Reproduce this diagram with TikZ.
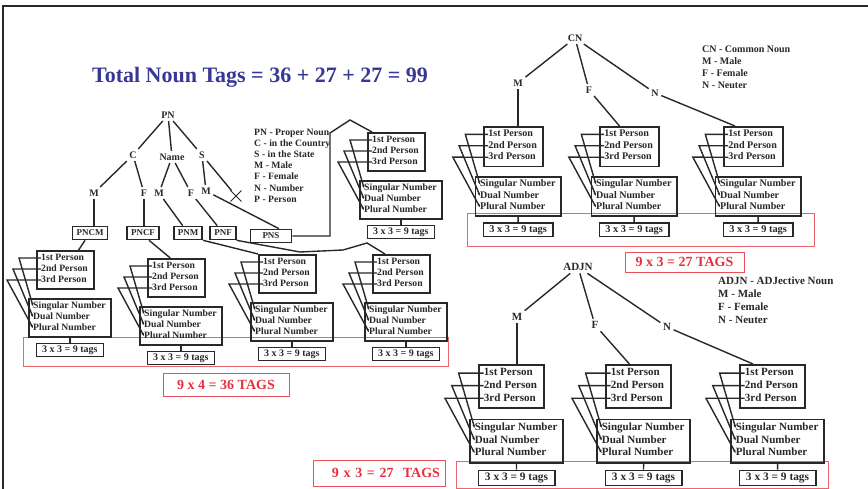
\documentclass[tikz,border=0pt]{standalone}
\usepackage{fontspec}
\setmainfont{Liberation Serif}
\usetikzlibrary{arrows.meta, positioning, shapes.misc}

\definecolor{titleblue}{RGB}{55,55,150}
\definecolor{tagred}{RGB}{232,48,60}
\definecolor{ink}{RGB}{40,40,40}

% one person/number block: name, top left of person box, scale
\newcommand{\taggroup}[4]{%
\begin{scope}[shift={(#2,#3)}, scale=#4, transform shape]
\node[box, minimum width=57pt] (#1p) at (0,0) {};
\node[row] (#1p1) at (5,8) {1st Person};
\node[row] (#1p2) at (5,19) {2nd Person};
\node[row] (#1p3) at (5,30) {3rd Person};
\node[box, minimum width=82pt] (#1n) at (-8,48) {};
\node[row] (#1n1) at (-3,56) {Singular Number};
\node[row] (#1n2) at (-3,67) {Dual Number};
\node[row] (#1n3) at (-3,78) {Plural Number};
\node[tagbox, below=5pt of #1n] (#1t) {3 x 3 = 9 tags};
\draw[link] (#1n) -- (#1t);
\foreach \i/\d/\y in {1/17/8, 2/23/19, 3/29/30}
  \draw[link, -{Stealth[length=3pt, width=2.5pt]}] (#1p\i.west) -- (-\d,\y) -- (#1n\i.west);
\end{scope}}

\begin{document}
\begin{tikzpicture}[x=1pt, y=-1pt,
  link/.style={line width=1.4pt, draw=ink},
  row/.style={anchor=west, inner sep=0pt, text height=7pt, text depth=2pt, text=ink, font=\bfseries\fontsize{9.7}{10}\selectfont},
  box/.style={draw=ink, line width=1.6pt, anchor=north west, minimum height=38pt, inner sep=0pt},
  tagbox/.style={draw=ink, line width=1.6pt, minimum width=67pt, minimum height=13pt, inner sep=1pt, text=ink, font=\bfseries\fontsize{10}{10}\selectfont},
  lbl/.style={inner sep=2.5pt, text=ink, font=\bfseries\fontsize{10}{10}\selectfont},
  lblbox/.style={draw=ink, line width=1.6pt, minimum height=13pt, inner xsep=4pt, inner ysep=1pt, text=ink, font=\bfseries\fontsize{9}{9}\selectfont},
  key/.style={anchor=north west, align=left, inner sep=0pt, text=ink},
  total/.style={draw=tagred!85, line width=0.9pt, text=tagred, inner sep=2pt, font=\bfseries\fontsize{14}{14}\selectfont},
  frame/.style={draw=tagred!75, line width=0.9pt}
]
\useasboundingbox (0,0) rectangle (868,489);
\draw[line width=1.4pt, ink] (868,6) -- (3,6) -- (3,489);

\node[anchor=base, text=titleblue, font=\bfseries\fontsize{22}{22}\selectfont] (title) at (260,83) {Total Noun Tags = 36 + 27 + 27 = 99};

% red frames round the tag counts
\draw[frame] (23,337) rectangle (448,366);
\draw[frame] (467,213) rectangle (814,246);
\draw[frame] (456,461) rectangle (828,488);

% person / number blocks
\taggroup{gpncm}{36}{250}{1}
\taggroup{gpncf}{147}{258}{1}
\taggroup{gpnm}{258}{254}{1}
\taggroup{gpnf}{372}{254}{1}
\taggroup{gpns}{367}{132}{1}
\taggroup{gcnm}{483}{126}{1.04}
\taggroup{gcnf}{599}{126}{1.04}
\taggroup{gcnn}{723}{126}{1.04}
\taggroup{gadjm}{478}{364}{1.14}
\taggroup{gadjf}{605}{364}{1.14}
\taggroup{gadjn}{739}{364}{1.14}

% proper noun tree
\node[lbl] (pn) at (168,115) {PN};
\node[lbl] (c) at (133,155) {C};
\node[lbl] (name) at (172,157) {Name};
\node[lbl] (s) at (202,155) {S};
\node[lbl] (cM) at (94,193) {M};
\node[lbl] (cF) at (144,193) {F};
\node[lbl] (nameM) at (159,193) {M};
\node[lbl] (nameF) at (191,193) {F};
\node[lbl] (sM) at (206,191) {M};
\node[cross out, draw=ink, line width=0.9pt, minimum size=10pt, inner sep=0pt] (sX) at (236,196) {};

\node[lblbox] (pncm) at (90,233) {PNCM};
\node[lblbox] (pncf) at (143,233) {PNCF};
\node[lblbox] (pnm) at (188,233) {PNM};
\node[lblbox] (pnf) at (223,233) {PNF};
\node[lblbox, minimum width=41pt] (pns) at (271,236) {PNS};

\foreach \a/\b in {pn/c, pn/name, pn/s, c/cM, c/cF, name/nameM, name/nameF, s/sM, s/sX}
  \draw[link] (\a) -- (\b);
\draw[link] (cM) -- (cM |- pncm.north);
\draw[link] (cF) -- (cF |- pncf.north);
\draw[link] (nameM) -- (pnm);
\draw[link] (nameF) -- (pnf);
\draw[link] (sM) -- ([xshift=8pt]pns.north);

\draw[link] (pncm) -- (gpncmp);
\draw[link] ([xshift=6pt]pncf.south) -- ([xshift=-6pt]gpncfp.north);
\draw[link] (pnm.south east) -- (gpnmp.north west);
\draw[link] (pnf.south east) -- (300,252) -- (343,250) -- (367,243) -- ([xshift=13pt]gpnfp.north west);
\draw[link] (pns.east) -| (330,133) -- (350,120) -- ([xshift=5pt]gpnsp.north west);

\node[key, font=\bfseries\fontsize{9.7}{11.1}\selectfont] (pnkey) at (254,129) {PN - Proper Noun\\C - in the Country\\S - in the State\\M - Male\\F - Female\\N - Number\\P - Person};

% common noun tree
\node[lbl] (cn) at (575,38) {CN};
\node[lbl] (cnM) at (518,83) {M};
\node[lbl] (cnF) at (589,90) {F};
\node[lbl] (cnN) at (655,93) {N};
\foreach \b in {cnM, cnF, cnN}
  \draw[link] (cn) -- (\b);
\draw[link] (cnM) -- (cnM |- gcnmp.north);
\draw[link] (cnF) -- ([xshift=-10pt]gcnfp.north);
\draw[link] (cnN) -- ([xshift=12pt]gcnnp.north west);

\node[key, font=\bfseries\fontsize{10}{12}\selectfont] (cnkey) at (702,46) {CN - Common Noun\\M - Male\\F - Female\\N - Neuter};

% adjective noun tree
\node[lbl, font=\bfseries\fontsize{11}{11}\selectfont] (adj) at (578,267) {ADJN};
\node[lbl, font=\bfseries\fontsize{11}{11}\selectfont] (adjM) at (517,317) {M};
\node[lbl, font=\bfseries\fontsize{11}{11}\selectfont] (adjF) at (595,325) {F};
\node[lbl, font=\bfseries\fontsize{11}{11}\selectfont] (adjN) at (667,327) {N};
\foreach \b in {adjM, adjF, adjN}
  \draw[link] (adj) -- (\b);
\draw[link] (adjM) -- (adjM |- gadjmp.north);
\draw[link] (adjF) -- ([xshift=-9pt]gadjfp.north);
\draw[link] (adjN) -- ([xshift=14pt]gadjnp.north west);

\node[key, font=\bfseries\fontsize{11}{13}\selectfont] (adjkey) at (718,277) {ADJN - ADJective Noun\\M - Male\\F - Female\\N - Neuter};

% totals
\node[total, minimum width=126pt, minimum height=23pt] (pntotal) at (226,384.5) {9 x 4 = 36 TAGS};
\node[total, minimum width=119pt, minimum height=20pt] (cntotal) at (684.5,262) {9 x 3 = 27 TAGS};
\node[total, text width=122pt, inner xsep=5pt, minimum height=26pt, align=right] (adjtotal) at (379,473) {9 x 3 = 27\ \ TAGS};
\end{tikzpicture}
\end{document}
